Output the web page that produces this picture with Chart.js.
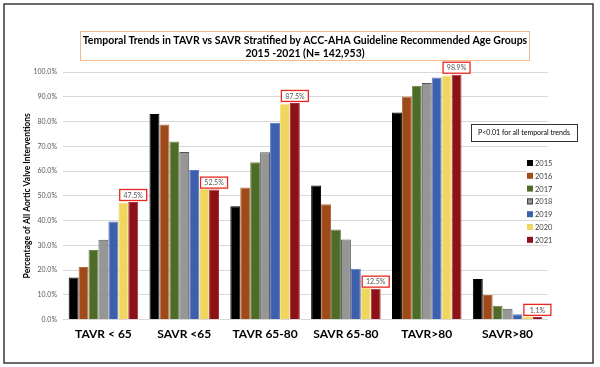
<!DOCTYPE html>
<html>
<head>
<meta charset="utf-8">
<script src="https://cdn.jsdelivr.net/npm/chart.js@4"></script>
<style>
html, body { margin: 0; padding: 0; background: #fff; }
#wrap { width: 600px; height: 367px; position: relative; }
</style>
</head>
<body>
<div id="wrap"><canvas id="chart" width="600" height="367"></canvas></div>
<script>
// categories and per-year series (% of all aortic valve interventions)
const groups = ['TAVR < 65', 'SAVR <65', 'TAVR 65-80', 'SAVR 65-80', 'TAVR>80', 'SAVR>80'];
const years = ['2015', '2016', '2017', '2018', '2019', '2020', '2021'];
const y2015 = [17.0, 83.0, 45.8, 54.2, 83.6, 16.4];
const y2016 = [21.2, 78.8, 53.4, 46.6, 90.1, 9.9];
const y2017 = [28.1, 71.9, 63.6, 36.4, 94.4, 5.6];
const y2018 = [32.3, 67.7, 67.6, 32.4, 95.6, 4.4];
const y2019 = [39.6, 60.4, 79.5, 20.5, 97.8, 2.2];
const y2020 = [47.3, 52.7, 87.2, 12.8, 98.6, 1.4];
const y2021 = [47.5, 52.5, 87.5, 12.5, 98.9, 1.1];
const yTicks = [0, 10, 20, 30, 40, 50, 60, 70, 80, 90, 100];

const titleLines = ['Temporal Trends in TAVR vs SAVR Stratified by ACC-AHA Guideline Recommended Age Groups',
                    '2015 -2021 (N= 142,953)'];
const noteText = 'P<0.01 for all temporal trends';

const fills   = ['#000000', '#9e4a1a', '#4e6b2a', '#969696', '#3e60ac', '#f0d55e', '#8c1218'];
const borders = ['#000000', '#b86a3c', '#6e8a48', '#555555', '#5a7cc4', '#f6e48c', '#a83038'];
const series = [y2015, y2016, y2017, y2018, y2019, y2020, y2021];

const FONT = 'Lato, "Open Sans", sans-serif';

let datasets = years.map(function (yr, i) {
  return {
    label: yr,
    data: series[i],
    backgroundColor: fills[i],
    borderColor: borders[i],
    borderWidth: 1,
    barPercentage: 1.0,
    categoryPercentage: 0.86
  };
});

// frame, title box, note box, legend and red value boxes
let decor = {
  id: 'decor',
  afterDraw: function (chart) {
    let ctx = chart.ctx;
    ctx.save();

    // outer frame
    ctx.strokeStyle = '#3a3a3a';
    ctx.lineWidth = 1.5;
    ctx.strokeRect(4, 4, 589, 359);

    // title box
    ctx.fillStyle = '#fff';
    ctx.fillRect(80, 31, 449, 29);
    ctx.strokeStyle = '#f1b98c';
    ctx.lineWidth = 1;
    ctx.strokeRect(80.5, 31.5, 449, 29);
    ctx.fillStyle = '#000';
    ctx.font = 'bold 10.5px ' + FONT;
    ctx.textAlign = 'center';
    ctx.textBaseline = 'middle';
    ctx.fillText(titleLines[0], 305, 41);
    ctx.fillText(titleLines[1], 305, 53.5);

    // note box
    ctx.fillStyle = '#fff';
    ctx.fillRect(471, 124, 106, 17);
    ctx.strokeStyle = '#333';
    ctx.strokeRect(471.5, 124.5, 106, 17);
    ctx.fillStyle = '#000';
    ctx.font = '7px ' + FONT;
    ctx.fillText(noteText, 524, 133);

    // legend
    ctx.textAlign = 'left';
    ctx.font = '7.5px ' + FONT;
    chart.data.datasets.forEach(function (ds, i) {
      let y = 163 + i * 12.8;
      ctx.fillStyle = '#fff';
      ctx.fillRect(526, y - 5, 26, 10);
      ctx.fillStyle = ds.backgroundColor;
      ctx.fillRect(527, y - 3, 6, 6);
      if (i == 3) {
        ctx.strokeStyle = '#444';
        ctx.strokeRect(527.5, y - 2.5, 5, 5);
      }
      ctx.fillStyle = '#404040';
      ctx.fillText(ds.label, 535, y + 0.5);
    });

    // red boxes over the 2021 bars
    let last = chart.data.datasets.length - 1;
    let meta = chart.getDatasetMeta(last);
    ctx.textAlign = 'center';
    ctx.font = '7px ' + FONT;
    meta.data.forEach(function (bar, j) {
      let v = chart.data.datasets[last].data[j];
      let w = 27, h = 11;
      let x0 = bar.x - w / 2, y0 = bar.y - 1.5 - h;
      ctx.fillStyle = '#fff';
      ctx.fillRect(x0, y0, w, h);
      ctx.strokeStyle = '#e8281e';
      ctx.lineWidth = 1.3;
      ctx.strokeRect(x0, y0, w, h);
      ctx.fillStyle = '#555';
      ctx.fillText(v.toFixed(1) + '%', bar.x, y0 + h / 2 + 0.5);
    });

    ctx.restore();
  }
};

new Chart(document.getElementById('chart'), {
  type: 'bar',
  data: { labels: groups, datasets: datasets },
  plugins: [decor],
  options: {
    responsive: false,
    animation: false,
    layout: { padding: { left: 22, right: 52, top: 72, bottom: 19 } },
    plugins: {
      legend: { display: false },
      tooltip: { enabled: false }
    },
    scales: {
      x: {
        grid: { display: false, drawTicks: false },
        border: { display: false },
        ticks: { padding: 7, color: '#000', font: { family: FONT, size: 12, weight: 'bold' } }
      },
      y: {
        min: 0,
        max: 100,
        afterBuildTicks: function (scale) {
          scale.ticks = yTicks.map(function (v) { return { value: v }; });
        },
        afterFit: function (scale) { scale.width = 41; },
        grid: { color: '#d9d9d9', drawTicks: false },
        border: { display: false },
        ticks: {
          padding: 6,
          color: '#595959',
          font: { family: FONT, size: 7 },
          callback: function (v) { return v.toFixed(1) + '%'; }
        },
        title: {
          display: true,
          text: 'Percentage of All Aortic Valve Interventions',
          color: '#000',
          padding: { top: 0, bottom: 0 },
          font: { family: FONT, size: 8.5, weight: 'bold' }
        }
      }
    }
  }
});
</script>
</body>
</html>
